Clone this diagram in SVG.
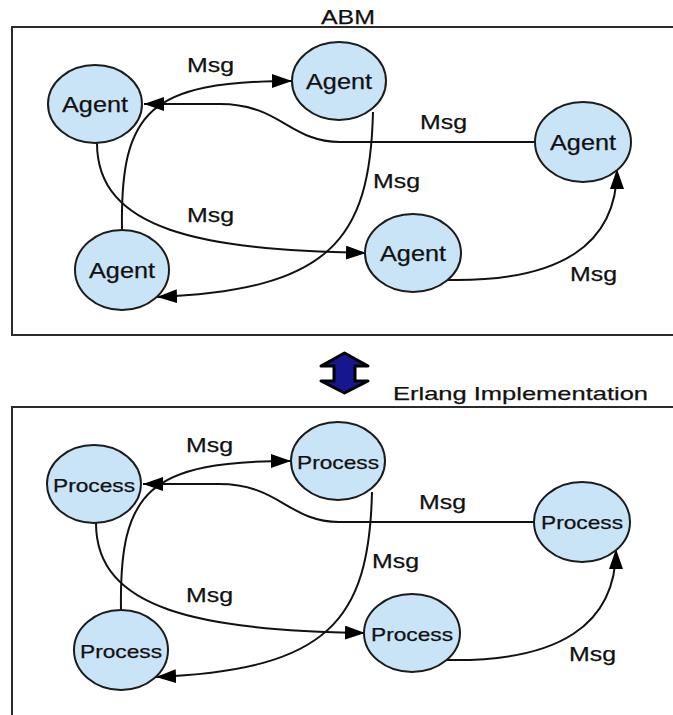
<svg xmlns="http://www.w3.org/2000/svg" width="673" height="715" viewBox="0 0 673 715">
  <style>
    .frame { fill: none; stroke: #2b2b2b; stroke-width: 2; }
    .node { fill: #c8e4f6; stroke: #1c1c1c; stroke-width: 2; }
    .edge { fill: none; stroke: #111; stroke-width: 2; }
    .t { font-family: "Liberation Sans", Arial, sans-serif; fill: #111; stroke: #111; stroke-width: 0.25; }
    .lbl { font-size: 20px; }
    .agent { font-size: 22px; }
    .proc { font-size: 19px; }
  </style>
  <defs>
    <marker id="ah" markerUnits="userSpaceOnUse" markerWidth="20" markerHeight="14" refX="20" refY="7" orient="auto">
      <path d="M0,0 L20,7 L0,14 z" fill="#000"/>
    </marker>
  </defs>
  <rect width="673" height="715" fill="#fff"/>

  <!-- frames and titles -->
  <g id="abm-frame">
    <rect class="frame" x="12" y="27" width="700" height="308"/>
    <text class="t" x="321" y="24" font-size="21" textLength="54" lengthAdjust="spacingAndGlyphs">ABM</text>
  </g>
  <g id="erlang-frame">
    <rect class="frame" x="12" y="407" width="700" height="400"/>
    <text class="t" x="393" y="400" font-size="19" textLength="255" lengthAdjust="spacingAndGlyphs">Erlang Implementation</text>
  </g>
  <g id="double-arrow">
    <polygon points="344.5,353 368,366 355,366 355,381 368,381 344.5,393 321,381 334,381 334,366 321,366" fill="#16168e" stroke="#000" stroke-width="3" stroke-linejoin="round"/>
  </g>

  <!-- connectors -->
  <g id="connectors">
    <g id="abm-edges">
      <path class="edge" d="M122,230 C120,110 150,81 292,81" marker-end="url(#ah)"/>
      <path class="edge" d="M536,142 L340,142 C290,142 280,104 220,104 L144,104" marker-end="url(#ah)"/>
      <path class="edge" d="M373,112 C370,240 330,290 157,297" marker-end="url(#ah)"/>
      <path class="edge" d="M97,143 C97,230 200,250 366,253" marker-end="url(#ah)"/>
      <path class="edge" d="M448,280 C560,282 617,245 617,169" marker-end="url(#ah)"/>
      <text class="t lbl" x="187" y="72" textLength="47" lengthAdjust="spacingAndGlyphs">Msg</text>
      <text class="t lbl" x="420" y="129" textLength="47" lengthAdjust="spacingAndGlyphs">Msg</text>
      <text class="t lbl" x="373" y="188" textLength="47" lengthAdjust="spacingAndGlyphs">Msg</text>
      <text class="t lbl" x="187" y="222" textLength="47" lengthAdjust="spacingAndGlyphs">Msg</text>
      <text class="t lbl" x="570" y="281" textLength="47" lengthAdjust="spacingAndGlyphs">Msg</text>
    </g>
    <g id="erlang-edges" transform="translate(-1,380)">
      <path class="edge" d="M122,230 C120,110 150,81 292,81" marker-end="url(#ah)"/>
      <path class="edge" d="M536,142 L340,142 C290,142 280,104 220,104 L144,104" marker-end="url(#ah)"/>
      <path class="edge" d="M373,112 C370,240 330,290 157,297" marker-end="url(#ah)"/>
      <path class="edge" d="M97,143 C97,230 200,250 366,253" marker-end="url(#ah)"/>
      <path class="edge" d="M448,280 C560,282 617,245 617,169" marker-end="url(#ah)"/>
      <text class="t lbl" x="187" y="72" textLength="47" lengthAdjust="spacingAndGlyphs">Msg</text>
      <text class="t lbl" x="420" y="129" textLength="47" lengthAdjust="spacingAndGlyphs">Msg</text>
      <text class="t lbl" x="373" y="188" textLength="47" lengthAdjust="spacingAndGlyphs">Msg</text>
      <text class="t lbl" x="187" y="222" textLength="47" lengthAdjust="spacingAndGlyphs">Msg</text>
      <text class="t lbl" x="570" y="281" textLength="47" lengthAdjust="spacingAndGlyphs">Msg</text>
    </g>
  </g>

  <!-- ABM nodes -->
  <g id="agent1"><ellipse class="node" cx="95" cy="104" rx="47" ry="39"/><text class="t agent" x="62" y="112" textLength="66" lengthAdjust="spacingAndGlyphs">Agent</text></g>
  <g id="agent2"><ellipse class="node" cx="339" cy="81" rx="47" ry="39"/><text class="t agent" x="306" y="89" textLength="66" lengthAdjust="spacingAndGlyphs">Agent</text></g>
  <g id="agent3"><ellipse class="node" cx="583" cy="142" rx="48" ry="40"/><text class="t agent" x="550" y="150" textLength="66" lengthAdjust="spacingAndGlyphs">Agent</text></g>
  <g id="agent4"><ellipse class="node" cx="122" cy="270" rx="47" ry="40"/><text class="t agent" x="89" y="278" textLength="66" lengthAdjust="spacingAndGlyphs">Agent</text></g>
  <g id="agent5"><ellipse class="node" cx="413" cy="253" rx="48" ry="39"/><text class="t agent" x="380" y="261" textLength="66" lengthAdjust="spacingAndGlyphs">Agent</text></g>

  <!-- Erlang nodes -->
  <g id="process1"><ellipse class="node" cx="94" cy="484" rx="47" ry="39"/><text class="t proc" x="53" y="492" textLength="82" lengthAdjust="spacingAndGlyphs">Process</text></g>
  <g id="process2"><ellipse class="node" cx="338" cy="461" rx="47" ry="39"/><text class="t proc" x="297" y="469" textLength="82" lengthAdjust="spacingAndGlyphs">Process</text></g>
  <g id="process3"><ellipse class="node" cx="582" cy="522" rx="48" ry="40"/><text class="t proc" x="541" y="529" textLength="82" lengthAdjust="spacingAndGlyphs">Process</text></g>
  <g id="process4"><ellipse class="node" cx="121" cy="650" rx="47" ry="40"/><text class="t proc" x="80" y="658" textLength="82" lengthAdjust="spacingAndGlyphs">Process</text></g>
  <g id="process5"><ellipse class="node" cx="412" cy="633" rx="48" ry="39"/><text class="t proc" x="371" y="641" textLength="82" lengthAdjust="spacingAndGlyphs">Process</text></g>
</svg>
